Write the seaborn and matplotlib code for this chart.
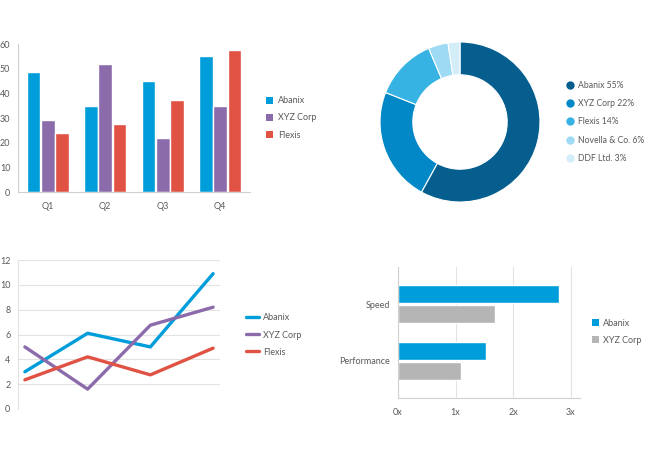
import numpy as np
import pandas as pd
import matplotlib
matplotlib.use("Agg")
import matplotlib.pyplot as plt
import seaborn as sns
from matplotlib.patches import Patch
from matplotlib.lines import Line2D

# ---------------- data ----------------
quarters = ["Q1", "Q2", "Q3", "Q4"]
companies = ["Abanix", "XYZ Corp", "Flexis"]
abanix_q = [48.5, 35, 45, 55]
xyz_q = [29, 52, 22, 35]
flexis_q = [24, 27.5, 37.5, 57.5]

share_labels = ["Abanix 55%", "XYZ Corp 22%", "Flexis 14%", "Novella & Co. 6%", "DDF Ltd. 3%"]
share_values = [58, 23, 12.6, 4, 2.4]

line_x = [0, 1, 2, 3]
abanix_line = [3.0, 6.1, 5.0, 10.9]
xyz_line = [5.0, 1.6, 6.75, 8.2]
flexis_line = [2.35, 4.2, 2.75, 4.9]

metrics = ["Speed", "Performance"]
hbar_companies = ["Abanix", "XYZ Corp"]
abanix_m = [2.8, 1.52]
xyz_m = [1.68, 1.10]
mult_ticks = [0, 1, 2, 3]
mult_labels = ["0x", "1x", "2x", "3x"]

# ---------------- style ----------------
sns.set_theme(style="white")
plt.rcParams["font.family"] = ["Lato", "DejaVu Sans"]
TXT = "#5a5a5a"
GRID = "#e3e3e3"
SPINE = "#d0d0d0"
FS = 6.5

bar_pal = {"Abanix": "#009ddb", "XYZ Corp": "#8c6bab", "Flexis": "#e05243"}
donut_cols = ["#065e8f", "#0288c7", "#36b2e3", "#9ddaf3", "#d3eef9"]
hbar_pal = {"Abanix": "#009ddb", "XYZ Corp": "#b5b5b6"}

W, H = 646, 450
fig = plt.figure(figsize=(W / 100, H / 100), dpi=100)


def rect(l, t, r, b):
    return [l / W, 1 - b / H, (r - l) / W, (b - t) / H]


def style_ticks(ax):
    ax.tick_params(axis="both", length=0, pad=5.5, labelsize=FS, labelcolor=TXT)


# ---------------- 1. grouped bar ----------------
ax1 = fig.add_axes(rect(18, 44, 250, 192))
df1 = pd.DataFrame({
    "quarter": quarters * 3,
    "company": [c for c in companies for _ in quarters],
    "value": abanix_q + xyz_q + flexis_q,
})
sns.barplot(data=df1, x="quarter", y="value", hue="company", palette=bar_pal,
            width=0.74, gap=0.04, ax=ax1, legend=False, saturation=1)
ax1.set_xlim(-0.52, 3.52)
ax1.set_ylim(0, 60)
ax1.set_yticks([0, 10, 20, 30, 40, 50, 60])
ax1.set_xlabel("")
ax1.set_ylabel("")
for s in ["top", "right"]:
    ax1.spines[s].set_visible(False)
for s in ["left", "bottom"]:
    ax1.spines[s].set_color(SPINE)
    ax1.spines[s].set_linewidth(0.8)
style_ticks(ax1)
ax1.tick_params(axis="x", pad=7)

h1 = [Patch(facecolor=bar_pal[c], edgecolor="none") for c in companies]
fig.legend(h1, companies, loc="center left", bbox_to_anchor=(261 / W, 1 - 118 / H),
           frameon=False, fontsize=FS, labelcolor=TXT, handlelength=0.8,
           handleheight=0.8, handletextpad=0.55, labelspacing=0.9, borderpad=0)

# ---------------- 2. donut ----------------
ax2 = fig.add_axes(rect(380, 42, 540, 202))
ax2.pie(share_values, colors=donut_cols, startangle=90, counterclock=False,
        radius=1, wedgeprops=dict(width=0.41, edgecolor="white", linewidth=0.8))
ax2.set_xlim(-1, 1)
ax2.set_ylim(-1, 1)
ax2.set_aspect("equal")
ax2.axis("off")

h2 = [Line2D([], [], marker="o", linestyle="none", markersize=6,
             markerfacecolor=c, markeredgecolor="none") for c in donut_cols]
fig.legend(h2, share_labels, loc="center left", bbox_to_anchor=(561 / W, 1 - 122 / H),
           frameon=False, fontsize=6.2, labelcolor=TXT, handlelength=1.0,
           handletextpad=0.45, labelspacing=1.05, borderpad=0)

# ---------------- 3. line chart ----------------
ax3 = fig.add_axes(rect(18, 260, 220, 409))
df3 = pd.DataFrame({
    "x": line_x * 3,
    "company": [c for c in companies for _ in line_x],
    "value": abanix_line + xyz_line + flexis_line,
})
sns.lineplot(data=df3, x="x", y="value", hue="company", palette=bar_pal,
             linewidth=2.4, ax=ax3, legend=False)
ax3.set_xlim(-0.11, 3.11)
ax3.set_ylim(0, 12)
ax3.set_yticks([0, 2, 4, 6, 8, 10, 12])
ax3.set_xticks([])
ax3.set_xlabel("")
ax3.set_ylabel("")
ax3.yaxis.grid(True, color=GRID, linewidth=0.8)
ax3.set_axisbelow(True)
for s in ["top", "right", "bottom"]:
    ax3.spines[s].set_visible(False)
ax3.spines["left"].set_color(GRID)
ax3.spines["left"].set_linewidth(0.8)
style_ticks(ax3)

h3 = [Line2D([], [], color=bar_pal[c], linewidth=2.4) for c in companies]
fig.legend(h3, companies, loc="center left", bbox_to_anchor=(241 / W, 1 - 335 / H),
           frameon=False, fontsize=FS, labelcolor=TXT, handlelength=1.5,
           handletextpad=0.45, labelspacing=0.9, borderpad=0)

# ---------------- 4. horizontal bars ----------------
ax4 = fig.add_axes(rect(398, 267, 580, 398))
df4 = pd.DataFrame({
    "metric": metrics * 2,
    "company": [c for c in hbar_companies for _ in metrics],
    "value": abanix_m + xyz_m,
})
sns.barplot(data=df4, y="metric", x="value", hue="company", palette=hbar_pal,
            orient="h", width=0.7, gap=0.06, ax=ax4, legend=False, saturation=1)
ax4.set_xlim(0, 3.16)
ax4.set_ylim(1.65, -0.65)
ax4.set_xticks(mult_ticks)
ax4.set_xticklabels(mult_labels)
ax4.set_xlabel("")
ax4.set_ylabel("")
ax4.xaxis.grid(True, color=GRID, linewidth=0.8)
ax4.set_axisbelow(True)
for s in ["top", "right"]:
    ax4.spines[s].set_visible(False)
for s in ["left", "bottom"]:
    ax4.spines[s].set_color(SPINE)
    ax4.spines[s].set_linewidth(0.8)
style_ticks(ax4)
ax4.tick_params(axis="x", pad=7)

h4 = [Patch(facecolor=hbar_pal[c], edgecolor="none") for c in hbar_companies]
fig.legend(h4, hbar_companies, loc="center left", bbox_to_anchor=(587 / W, 1 - 332 / H),
           frameon=False, fontsize=FS, labelcolor=TXT, handlelength=0.8,
           handleheight=0.8, handletextpad=0.5, labelspacing=0.9, borderpad=0)

fig.savefig("out.png", dpi=100, facecolor="white")
